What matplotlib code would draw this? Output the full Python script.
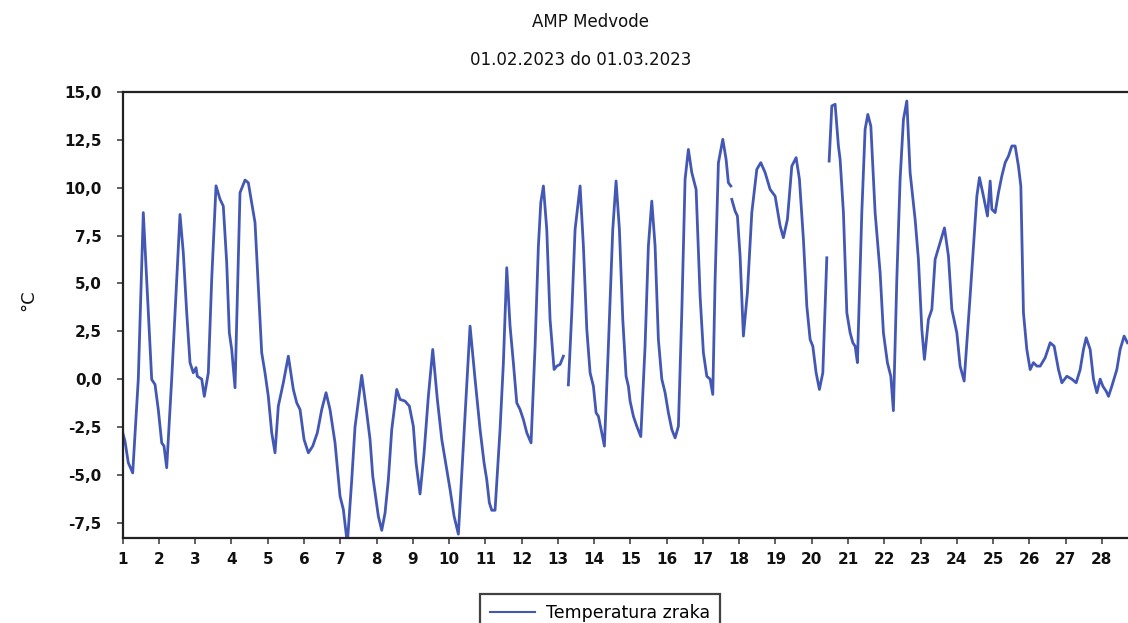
#!/usr/bin/env python3
import numpy as numpy
import matplotlib

matplotlib.use("Agg")
import matplotlib.pyplot as plt
from matplotlib.ticker import FuncFormatter, MultipleLocator

# Air temperature, AMP Medvode, February 2023 (x = day of month, NaN = gap)
dayOfMonth = [
    1.000, 1.063, 1.154, 1.276, 1.430, 1.568, 1.662, 1.734, 1.800, 1.891,
    1.982, 2.076, 2.139, 2.213, 2.351, 2.489, 2.580, 2.671, 2.765, 2.856,
    2.947, 3.022, 3.057, 3.179, 3.250, 3.361, 3.454, 3.573, 3.683, 3.774,
    3.868, 3.940, 4.006, 4.097, 4.235, 4.373, 4.464, 4.558, 4.649, 4.740,
    4.833, 4.924, 5.015, 5.109, 5.200, 5.291, 5.429, 5.567, 5.705, 5.799,
    5.890, 6.000, 6.119, 6.240, 6.367, 6.488, 6.607, 6.717, 6.855, 6.993,
    7.084, 7.194, 7.316, 7.406, 7.591, 7.729, 7.820, 7.895, 7.958, 8.049,
    8.143, 8.234, 8.325, 8.419, 8.556, 8.648, 8.785, 8.904, 9.014, 9.089,
    9.199, 9.310, 9.428, 9.549, 9.676, 9.798, 9.935, 10.027, 10.137, 10.256,
    10.393, 10.578, 10.716, 10.854, 10.964, 11.038, 11.110, 11.176, 11.267, 11.405,
    11.497, 11.590, 11.681, 11.772, 11.866, 11.957, 12.048, 12.142, 12.260, 12.371,
    12.462, 12.528, 12.600, 12.693, 12.784, 12.895, 12.969, 13.060, 13.151, 13.220,
    13.289, 13.383, 13.474, 13.612, 13.703, 13.797, 13.888, 13.979, 14.053, 14.117,
    14.210, 14.282, 14.392, 14.513, 14.604, 14.696, 14.789, 14.880, 14.944, 14.991,
    15.082, 15.175, 15.286, 15.404, 15.495, 15.589, 15.680, 15.771, 15.865, 15.956,
    16.047, 16.141, 16.232, 16.323, 16.416, 16.507, 16.598, 16.692, 16.811, 16.921,
    17.012, 17.106, 17.197, 17.271, 17.335, 17.426, 17.547, 17.638, 17.701, 17.768,
    17.780, 17.795, 17.886, 17.950, 18.024, 18.115, 18.225, 18.347, 18.485, 18.595,
    18.714, 18.852, 18.990, 19.128, 19.218, 19.329, 19.450, 19.569, 19.660, 19.770,
    19.864, 19.955, 20.029, 20.120, 20.211, 20.305, 20.415, 20.450, 20.479, 20.553,
    20.644, 20.735, 20.782, 20.873, 20.967, 21.058, 21.133, 21.196, 21.259, 21.380,
    21.471, 21.546, 21.629, 21.747, 21.885, 21.976, 22.086, 22.180, 22.251, 22.345,
    22.436, 22.528, 22.621, 22.712, 22.850, 22.941, 23.035, 23.107, 23.217, 23.311,
    23.402, 23.540, 23.659, 23.769, 23.863, 24.000, 24.091, 24.202, 24.367, 24.552,
    24.624, 24.734, 24.845, 24.919, 24.966, 25.057, 25.148, 25.241, 25.333, 25.424,
    25.517, 25.608, 25.699, 25.765, 25.837, 25.930, 26.022, 26.113, 26.207, 26.298,
    26.436, 26.574, 26.684, 26.803, 26.896, 27.034, 27.172, 27.291, 27.401, 27.492,
    27.567, 27.677, 27.768, 27.862, 27.953, 28.027, 28.118, 28.182, 28.274, 28.412,
    28.503, 28.613, 28.704,
]
airTemp = [
    -2.8, -3.24, -4.37, -4.9, 0.0, 8.7, 5.2, 2.42, -0.02, -0.28,
    -1.6, -3.33, -3.5, -4.63, 0.0, 5.2, 8.6, 6.6, 3.47, 0.86,
    0.33, 0.6, 0.15, 0.0, -0.9, 0.33, 5.2, 10.1, 9.4, 9.04,
    6.08, 2.42, 1.55, -0.45, 9.74, 10.4, 10.26, 9.2, 8.17, 4.86,
    1.38, 0.33, -0.9, -2.8, -3.85, -1.41, -0.19, 1.2, -0.54, -1.24,
    -1.59, -3.15, -3.85, -3.5, -2.8, -1.59, -0.71, -1.59, -3.33, -6.12,
    -6.81, -8.6, -5.25, -2.5, 0.2, -1.76, -3.15, -5.07, -5.94, -7.16,
    -7.9, -6.99, -5.25, -2.63, -0.54, -1.06, -1.15, -1.41, -2.46, -4.37,
    -6.0, -3.85, -0.9, 1.55, -1.06, -3.15, -4.72, -5.77, -7.16, -8.1,
    -3.5, 2.77, 0.0, -2.63, -4.37, -5.25, -6.46, -6.85, -6.85, -2.63,
    0.86, 5.82, 2.77, 0.86, -1.24, -1.59, -2.11, -2.8, -3.33, 1.72,
    6.95, 9.22, 10.09, 7.82, 3.12, 0.5, 0.68, 0.77, 1.2, numpy.nan,
    -0.3, 3.47, 7.82, 10.09, 6.95, 2.6, 0.33, -0.37, -1.76, -1.94,
    -2.8, -3.5, 1.72, 7.82, 10.35, 7.82, 3.12, 0.15, -0.37, -1.15,
    -1.94, -2.46, -3.0, 1.72, 6.95, 9.3, 6.95, 2.07, 0.0, -0.71,
    -1.76, -2.63, -3.07, -2.46, 3.47, 10.44, 12.0, 10.79, 9.91, 4.34,
    1.38, 0.15, 0.0, -0.8, 5.2, 11.3, 12.53, 11.48, 10.26, 10.09,
    numpy.nan, 9.39, 8.78, 8.52, 6.43, 2.25, 4.51, 8.7, 10.96, 11.31,
    10.79, 9.91, 9.56, 8.0, 7.39, 8.35, 11.13, 11.57, 10.44, 7.3,
    3.81, 2.07, 1.72, 0.33, -0.54, 0.33, 6.34, numpy.nan, 11.39, 14.27,
    14.36, 12.18, 11.48, 8.7, 3.47, 2.42, 1.9, 1.72, 0.86, 8.7,
    13.05, 13.83, 13.22, 8.7, 5.56, 2.42, 0.86, 0.15, -1.65, 5.2,
    10.44, 13.57, 14.53, 10.79, 8.35, 6.26, 2.6, 1.03, 3.12, 3.64,
    6.26, 7.13, 7.9, 6.43, 3.64, 2.42, 0.68, -0.1, 4.34, 9.56,
    10.53, 9.56, 8.52, 10.35, 8.87, 8.7, 9.74, 10.61, 11.31, 11.65,
    12.18, 12.18, 11.13, 10.09, 3.47, 1.55, 0.5, 0.86, 0.68, 0.68,
    1.12, 1.9, 1.72, 0.5, -0.19, 0.15, 0.0, -0.19, 0.5, 1.55,
    2.16, 1.55, 0.0, -0.71, 0.0, -0.37, -0.63, -0.9, -0.37, 0.5,
    1.55, 2.25, 1.9,
]
dayTicks = list(range(1, 29))
tempTicks = [-7.5, -5.0, -2.5, 0.0, 2.5, 5.0, 7.5, 10.0, 12.5, 15.0]

stationName = "AMP Medvode"
periodText = "01.02.2023 do 01.03.2023"
seriesName = "Temperatura zraka"
unitText = "°C"


def commaDecimal(value, pos):
    return f"{value:.1f}".replace(".", ",")


def PlotTemperature(fig, ax):
    """Draw the hourly air temperature line in the station report style."""
    ax.plot(dayOfMonth, airTemp, color="#4358B4", linewidth=2.0,
            label=seriesName, solid_joinstyle="round")

    ax.set_xlim(1, 28.72)
    ax.set_ylim(-8.3, 15.0)
    ax.set_xticks(dayTicks)
    ax.set_yticks(tempTicks)
    ax.yaxis.set_major_formatter(FuncFormatter(commaDecimal))
    ax.xaxis.set_minor_locator(MultipleLocator(1))

    for side in ["left", "bottom", "top"]:
        ax.spines[side].set_linewidth(1.6)
        ax.spines[side].set_color("#222222")
    ax.spines["right"].set_visible(False)

    ax.tick_params(axis="both", direction="out", length=4, width=1.2,
                   color="#444444", labelsize=11, labelcolor="#111111")
    ax.tick_params(axis="x", pad=6)
    ax.tick_params(axis="y", pad=11)
    for label in ax.get_xticklabels() + ax.get_yticklabels():
        label.set_fontweight("bold")

    fig.text(28 / 1128, 1 - 300 / 623, unitText, rotation=90,
             ha="center", va="center", fontsize=13, color="#111111")
    fig.text(590 / 1128, 1 - 22 / 623, stationName,
             ha="center", va="center", fontsize=12, color="#111111")
    fig.text(581 / 1128, 1 - 60 / 623, periodText,
             ha="center", va="center", fontsize=12, color="#111111")

    legend = fig.legend(loc="upper center", bbox_to_anchor=(600 / 1128, 1 - 585 / 623),
                        frameon=True, fancybox=False, fontsize=12.5,
                        handlelength=2.6, handletextpad=0.6, borderpad=0.6)
    legend.get_frame().set_edgecolor("#111111")
    legend.get_frame().set_linewidth(1.6)
    for handle in legend.legend_handles:
        handle.set_linewidth(1.5)


if __name__ == "__main__":
    fig = plt.figure(figsize=(11.28, 6.23), dpi=100)
    ax = fig.add_axes([122.7 / 1128, 1 - 538 / 623, 1 - 122.7 / 1128, (538 - 92) / 623])
    PlotTemperature(fig, ax)
    fig.savefig("out.png", dpi=100)
